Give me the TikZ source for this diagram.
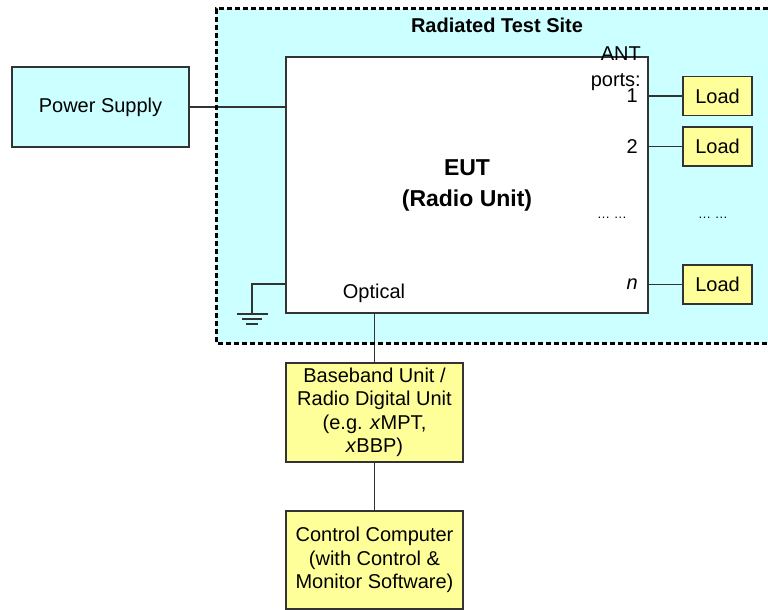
\documentclass[tikz,border=0pt]{standalone}
\usepackage{fontspec}
\setmainfont{Liberation Sans}
\usepackage{tikz}
\usetikzlibrary{positioning}
\definecolor{sitecyan}{HTML}{CCFFFF}
\definecolor{unityellow}{HTML}{FFFF99}
\definecolor{wiregray}{HTML}{333333}

\begin{document}
\begin{tikzpicture}[x=1pt, y=-1pt,
                    txt/.style={font=\fontsize{20}{23.5}\selectfont},
                    box/.style={draw=wiregray, line width=1.2pt, inner sep=0pt, align=center, txt},
                    cyanbox/.style={box, fill=sitecyan},
                    unitbox/.style={box, fill=unityellow},
                    link/.style={draw=wiregray, line width=1.2pt}]
                \useasboundingbox (0,0) rectangle (768,610);
                % radiated test site
                \fill[sitecyan] (216,9) rectangle (768,343);
                \node[font=\fontsize{20}{24}\selectfont\bfseries] (site) at (497,25) {Radiated Test Site};
                \node[box, fill=white, minimum width=362pt, minimum height=256pt,
                      font=\fontsize{23}{31}\selectfont\bfseries] (eut) at (467,185) {EUT\\(Radio Unit)};
                \node[anchor=east, align=right, inner sep=0pt, font=\fontsize{20}{26}\selectfont] (ant) at (641,69) {ANT\\ports:};
                \foreach \i/\y/\t in {1/96/1, 2/146.5/2, n/284.5/\textit{n}}{
                        \node[unitbox, minimum width=69pt, minimum height=39pt] (load\i) at (717.5,\y) {Load};
                        \draw[link] (eut.east |- load\i) -- (load\i);
                        \node[txt, anchor=east, inner sep=0pt] (port\i) at (638,\y) {\t};
                    }
                \node[font=\fontsize{13}{15}\selectfont] (dotsa) at (612,218) {… …};
                \node[font=\fontsize{13}{15}\selectfont] (dotsb) at (713,218) {… …};
                % supply and ground
                \node[cyanbox, minimum width=177pt, minimum height=80pt] (psu) at (100.5,107) {Power Supply};
                \draw[link] (psu) -- (eut.west |- psu);
                \coordinate (gtop) at (252,284);
                \coordinate (gnd) at (252,314);
                \draw[link] (gtop -| eut.west) -- (gtop) -- (gnd);
                \draw[link] ([shift={(-15.5,0)}]gnd) -- ([shift={(15.5,0)}]gnd);
                \draw[link] ([shift={(-10,5)}]gnd) -- ([shift={(10,5)}]gnd);
                \draw[link] ([shift={(-6,10)}]gnd) -- ([shift={(6,10)}]gnd);
                % baseband and control
                \node[txt] (optical) at (374,293) {Optical};
                \node[unitbox, minimum width=177pt, minimum height=99pt] (bbu) at (374.5,412.5)
                     {Baseband Unit /\\Radio Digital Unit\\(e.g. \textit{x}MPT,\\\textit{x}BBP)};
                \node[unitbox, minimum width=177pt, minimum height=98pt] (ctrl) at (374.5,560)
                     {Control Computer\\(with Control \&\\Monitor Software)};
                \draw[link] (eut.south -| bbu) -- (bbu);
                \draw[link] (bbu) -- (ctrl);
                \draw[black, line width=3pt, dash pattern=on 5pt off 3pt] (768,9) -- (216,9) -- (216,343) -- (768,343);
            \end{tikzpicture}
\end{document}
